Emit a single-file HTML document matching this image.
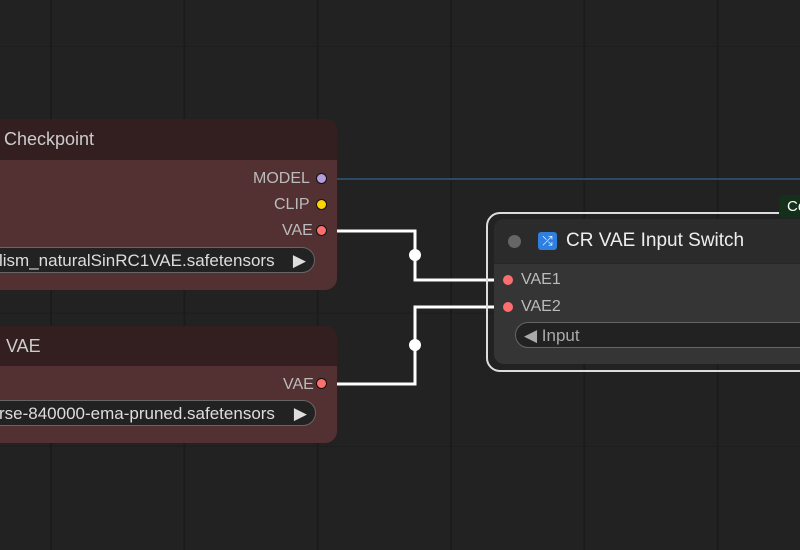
<!DOCTYPE html>
<html><head><style>
html,body{margin:0;padding:0}
body{width:800px;height:550px;overflow:hidden;position:relative;background:#222;font-family:"Liberation Sans",sans-serif;
background-image:linear-gradient(to right,#1b1b1b 2px,transparent 2px),linear-gradient(to bottom,#1d1d1d 1px,transparent 1px);
background-size:133.33px 133.33px;background-position:50px 46px;}
.abs{position:absolute}
.node{position:absolute;border-radius:12px;overflow:hidden}
.lbl{position:absolute;color:#bbb;font-size:16px}
.dot{position:absolute;width:9px;height:9px;border-radius:50%;border:1px solid #111}
.combo{position:absolute;height:26px;border-radius:13px;background:#222;border:1px solid #666;color:#ddd;font-size:17px;line-height:25px;box-sizing:border-box}
</style></head><body>
<svg class="abs" style="left:0;top:0" width="800" height="550">
<line x1="330" y1="179" x2="800" y2="179" stroke="#2c4a66" stroke-width="2"/>
<polyline points="325,231 415,231 415,280 506,280" fill="none" stroke="#fff" stroke-width="3"/>
<polyline points="325,384 415,384 415,307 506,307" fill="none" stroke="#fff" stroke-width="3"/>
<circle cx="415" cy="255" r="6" fill="#fff"/>
<circle cx="415" cy="345" r="6" fill="#fff"/>
</svg>
<div class="node" style="left:-20px;top:119px;width:357px;height:171px;background:#533133">
 <div style="height:41px;background:#331f20"></div>
</div>
<div class="lbl" style="left:4px;top:129px;font-size:18px;color:#ccc">Checkpoint</div>
<div class="lbl" style="left:253px;top:170px">MODEL</div><div class="dot" style="left:316px;top:173px;background:#b39ddb"></div>
<div class="lbl" style="left:274px;top:196px">CLIP</div><div class="dot" style="left:316px;top:199px;background:#ffd500"></div>
<div class="lbl" style="left:282px;top:222px">VAE</div><div class="dot" style="left:316px;top:225px;background:#ff6e6e"></div>
<div class="combo" style="left:-20px;top:247px;width:335px;padding-left:18px">lism_naturalSinRC1VAE.safetensors<span style="position:absolute;right:8px;color:#ddd">▶</span></div>
<div class="node" style="left:-20px;top:326px;width:357px;height:117px;background:#533133">
 <div style="height:40px;background:#331f20"></div>
</div>
<div class="lbl" style="left:6px;top:336px;font-size:18px;color:#ccc">VAE</div>
<div class="lbl" style="left:283px;top:376px">VAE</div><div class="dot" style="left:316px;top:378px;background:#ff6e6e"></div>
<div class="combo" style="left:-20px;top:400px;width:336px;padding-left:18px">rse-840000-ema-pruned.safetensors<span style="position:absolute;right:8px;color:#ddd">▶</span></div>
<div class="abs" style="left:486px;top:212px;width:330px;height:160px;border:2px solid #ddd;border-radius:14px;box-sizing:border-box"></div>
<div class="node" style="left:494px;top:219px;width:320px;height:145px;background:#353535;border-radius:10px">
 <div style="height:44px;background:#2b2b2b;border-bottom:1px solid #262626"></div>
</div>
<div class="abs" style="left:508px;top:235px;width:13px;height:13px;border-radius:50%;background:#666"></div>
<div class="abs" style="left:538px;top:232px;width:19px;height:18px;background:#2f7fe0;border-radius:3px;color:#fff;font-size:13px;text-align:center;line-height:18px">⤮</div>
<div class="lbl" style="left:566px;top:230px;font-size:19px;color:#eee">CR VAE Input Switch</div>
<div class="dot" style="left:503px;top:275px;background:#ff6e6e;border:none;width:10px;height:10px"></div><div class="lbl" style="left:521px;top:271px">VAE1</div>
<div class="dot" style="left:503px;top:302px;background:#ff6e6e;border:none;width:10px;height:10px"></div><div class="lbl" style="left:521px;top:298px">VAE2</div>
<div class="combo" style="left:515px;top:322px;width:300px;padding-left:8px;color:#aaa">◀ Input</div>
<div class="abs" style="left:779px;top:195px;width:30px;height:23px;background:#14301a;color:#fff;font-size:15px;line-height:23px;padding-left:8px;border-radius:4px">Co</div>
</body></html>
